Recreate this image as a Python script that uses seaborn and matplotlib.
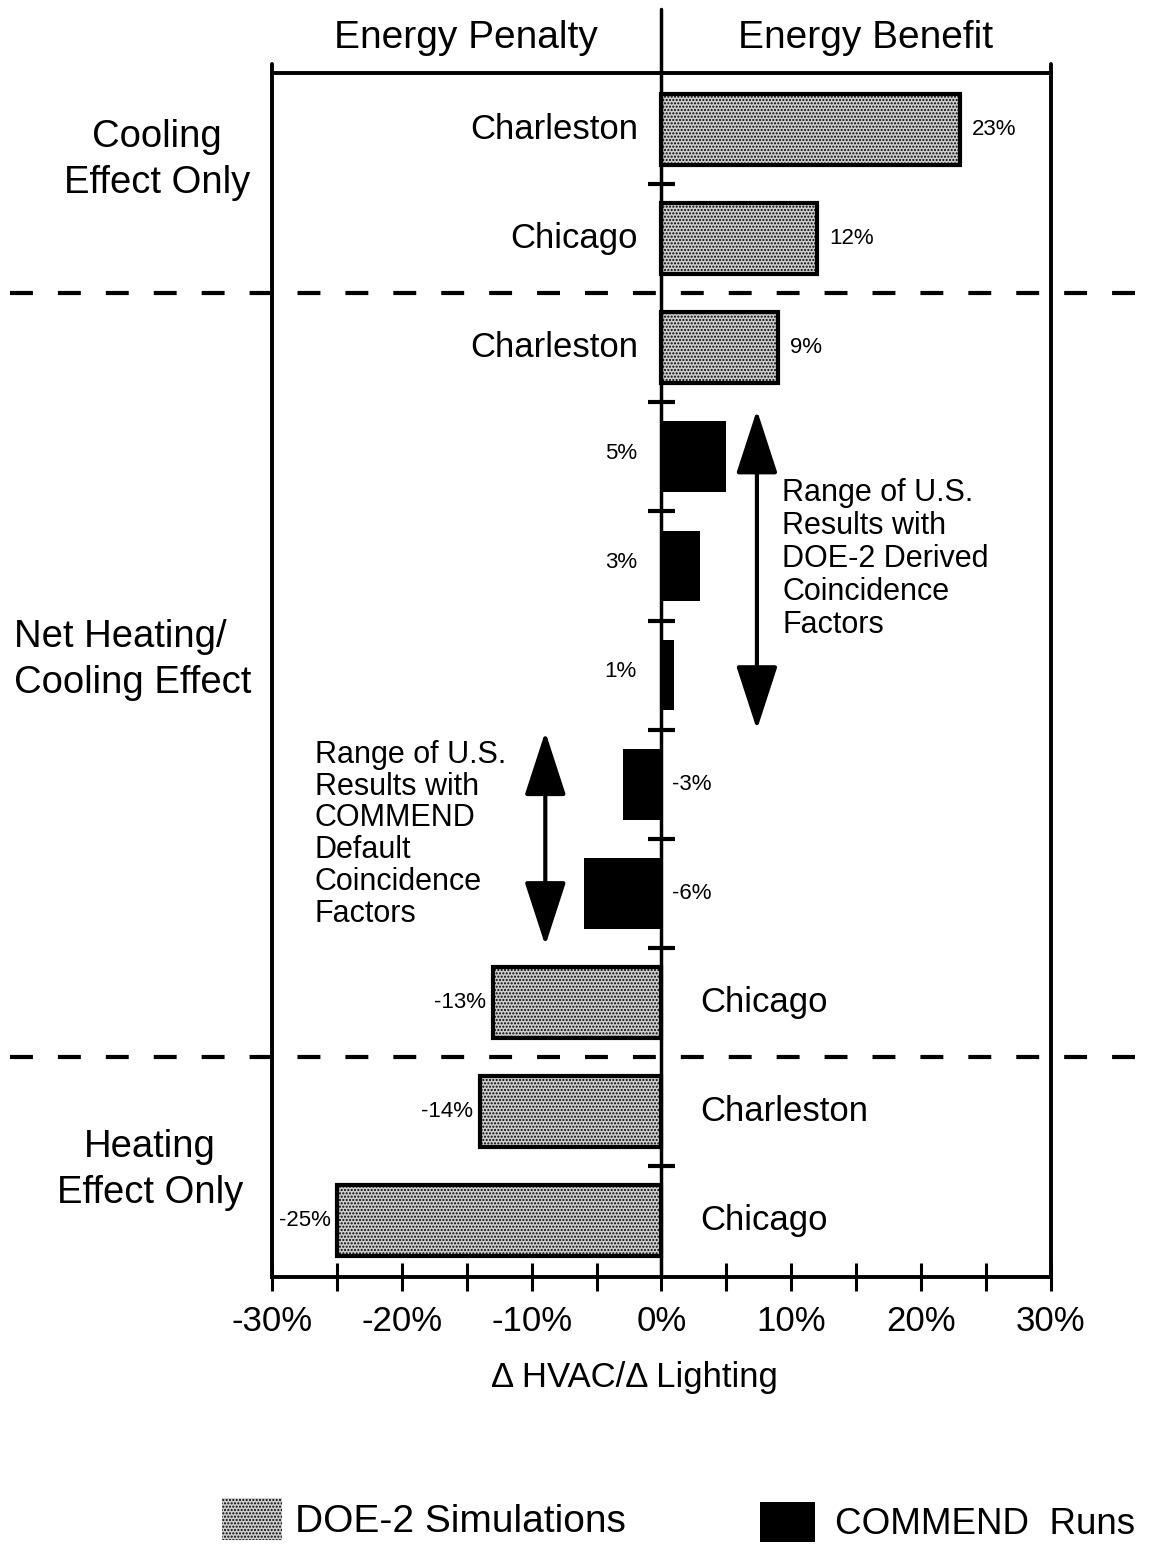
import pandas as pd
import seaborn as sns
import matplotlib.pyplot as plt
from matplotlib.patches import Patch

# chart data
rows = list(range(11))
places = ['Charleston', 'Chicago', 'Charleston', '', '', '', '', '', 'Chicago', 'Charleston', 'Chicago']
values = [23, 12, 9, 5, 3, 1, -3, -6, -13, -14, -25]
sources = ['DOE-2 Simulations'] * 3 + ['COMMEND Runs'] * 5 + ['DOE-2 Simulations'] * 3
section_names = ['Cooling\nEffect Only', 'Net Heating/\nCooling Effect', 'Heating\nEffect Only']
section_sizes = [2, 7, 2]
xticks = [-30, -20, -10, 0, 10, 20, 30]
xminor = [-25, -15, -5, 5, 15, 25]

DOE, COM = 'DOE-2 Simulations', 'COMMEND Runs'
GRAY = '#cdcdcd'

sns.set_theme(style='white')
plt.rcParams['font.family'] = ['Liberation Sans', 'DejaVu Sans']
plt.rcParams['hatch.linewidth'] = 1.0
plt.rcParams['text.color'] = 'black'
plt.rcParams['axes.labelcolor'] = 'black'

df = pd.DataFrame({'row': rows, 'value': values, 'source': sources, 'place': places})

fig = plt.figure(figsize=(11.59, 15.44), dpi=100)
ax = fig.add_axes([0.2347, 0.1729, 0.6721, 0.7798])

sns.barplot(data=df, x='value', y='row', hue='source', orient='h', dodge=False,
            width=0.65, palette={DOE: GRAY, COM: 'black'}, saturation=1,
            legend=False, ax=ax)

for p in ax.patches:
    if p.get_facecolor()[0] > 0.5:
        p.set_hatch('.....')
        p.set_edgecolor('black')
        p.set_linewidth(3)
    else:
        p.set_edgecolor('black')
        p.set_linewidth(0)

ax.set_xlim(-30, 30)
ax.set_ylim(10.52, -0.52)
ax.set_yticks([])
ax.set_ylabel('')
ax.set_xticks(xticks)
ax.set_xticklabels([f'{t}%' for t in xticks], fontsize=25)
ax.set_xticks(xminor, minor=True)
ax.tick_params(axis='x', which='both', direction='inout', length=20, width=2.2,
               bottom=True, top=False, pad=10, colors='black')
for s in ax.spines.values():
    s.set_linewidth(2.8)
    s.set_color('black')
ax.set_xlabel('Δ HVAC/Δ Lighting', fontsize=25)
ax.xaxis.set_label_coords(0.465, -0.07)

# value and city labels
for i, (v, src, place) in enumerate(zip(values, sources, places)):
    if src == DOE:
        if v > 0:
            ax.text(-1.8, i, place, ha='right', va='center', fontsize=25)
            ax.text(v + 0.9, i, f'{v}%', ha='left', va='center', fontsize=16)
        else:
            ax.text(3.0, i, place, ha='left', va='center', fontsize=25)
            ax.text(v - 0.5, i, f'{v}%', ha='right', va='center', fontsize=16)
    else:
        if v > 0:
            ax.text(-1.9, i - 0.03, f'{v}%', ha='right', va='center', fontsize=16)
        else:
            ax.text(0.8, i, f'{v}%', ha='left', va='center', fontsize=16)

# zero line running up between the two headers
ax.plot([0, 0], [10.52, -1.11], color='black', lw=2.5, clip_on=False, zorder=5)
for x in (-30, 30):
    ax.plot([x, x], [-0.52, -0.6], color='black', lw=2.8, clip_on=False)

# section dividers and small ticks on the zero line
bounds = []
n = 0
for sz in section_sizes[:-1]:
    n += sz
    bounds.append(n - 0.5)
for b in bounds:
    ax.axhline(b, xmin=-0.336, xmax=1.139, color='black', lw=3,
               ls=(0, (5.5, 6.0)), clip_on=False, zorder=4)
ticks_y = [i + 0.5 for i in rows[:-1] if i + 0.5 not in bounds]
ax.hlines(ticks_y, -1.05, 1.05, color='black', lw=3, zorder=5)

# range arrows and notes
arrow = dict(arrowstyle='<|-|>,head_length=2.0,head_width=0.65', color='black',
             lw=3, shrinkA=0, shrinkB=0, mutation_scale=20)
ax.annotate('', xy=(7.35, 2.57), xytext=(7.35, 5.5), arrowprops=arrow)
ax.annotate('', xy=(-8.95, 5.52), xytext=(-8.95, 7.48), arrowprops=arrow)
ax.text(9.3, 3.94, 'Range of U.S.\nResults with\nDOE-2 Derived\nCoincidence\nFactors',
        ha='left', va='center', fontsize=22, linespacing=1.13)
ax.text(-26.7, 6.46, 'Range of U.S.\nResults with\nCOMMEND\nDefault\nCoincidence\nFactors',
        ha='left', va='center', fontsize=22, linespacing=1.08)

# headers and section names
fig.text(466 / 1159, 1 - 38 / 1544, 'Energy Penalty', ha='center', va='center', fontsize=28)
fig.text(866 / 1159, 1 - 38 / 1544, 'Energy Benefit', ha='center', va='center', fontsize=28)
fig.text(157 / 1159, 1 - 160 / 1544, section_names[0], ha='center', va='center',
         fontsize=27.5, linespacing=1.37)
fig.text(14 / 1159, 1 - 660 / 1544, section_names[1], ha='left', va='center',
         fontsize=27.5, linespacing=1.37)
fig.text(150 / 1159, 1 - 1170 / 1544, section_names[2], ha='center', va='center',
         fontsize=27.5, linespacing=1.37)

# legend, two separate entries
fig.legend(handles=[Patch(facecolor=GRAY, edgecolor='black', hatch='.....', lw=0)],
           labels=[DOE], loc='center left', bbox_to_anchor=(222 / 1159, 1 - 1519 / 1544),
           frameon=False, fontsize=28, handlelength=1.55, handleheight=1.3,
           handletextpad=0.33, borderpad=0, borderaxespad=0)
fig.legend(handles=[Patch(facecolor='black', lw=0)],
           labels=['COMMEND  Runs'], loc='center left',
           bbox_to_anchor=(760 / 1159, 1 - 1522 / 1544),
           frameon=False, fontsize=26.5, handlelength=1.5, handleheight=1.3,
           handletextpad=0.55, borderpad=0, borderaxespad=0)

fig.savefig('out.png', dpi=100)
